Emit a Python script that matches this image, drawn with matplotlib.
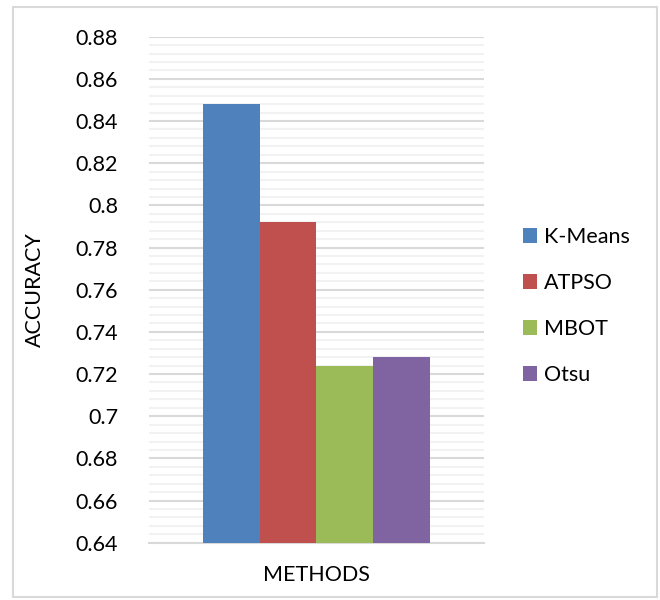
import matplotlib
matplotlib.use("Agg")
import matplotlib.pyplot as plt
from matplotlib.patches import Rectangle
from matplotlib.ticker import MultipleLocator

methods = ["K-Means", "ATPSO", "MBOT", "Otsu"]
accuracy = [0.848, 0.792, 0.724, 0.728]
colors = ["#4F81BD", "#C0504D", "#9BBB59", "#8064A2"]
yticks = [0.64, 0.66, 0.68, 0.70, 0.72, 0.74, 0.76, 0.78, 0.80, 0.82, 0.84, 0.86, 0.88]
ytick_labels = ["0.64", "0.66", "0.68", "0.7", "0.72", "0.74", "0.76", "0.78",
                "0.8", "0.82", "0.84", "0.86", "0.88"]

plt.rcParams['font.family'] = ['Lato', 'DejaVu Sans']

fig = plt.figure(figsize=(6.6, 6.0), dpi=100)
ax = fig.add_axes([0.2253, 0.0955, 0.5080, 0.8433])

# chart border
fig.patches.append(Rectangle((13 / 660, 3 / 600), 644 / 660, 590 / 600,
                             transform=fig.transFigure, fill=False,
                             edgecolor="#d9d9d9", linewidth=1.5))

for i, (name, val, c) in enumerate(zip(methods, accuracy, colors)):
    ax.bar(i, val - 0.64, bottom=0.64, width=1.0, color=c, label=name, zorder=3)

ax.set_xlim(-1.46, 4.46)
ax.set_ylim(0.64, 0.88)
ax.set_yticks(yticks)
ax.set_yticklabels(ytick_labels)
ax.yaxis.set_minor_locator(MultipleLocator(0.004))
ax.set_xticks([])

ax.grid(which="major", axis="y", color="#d9d9d9", linewidth=1.5, zorder=1)
ax.grid(which="minor", axis="y", color="#f2f2f2", linewidth=1.5, zorder=0)

for s in ["top", "right", "left"]:
    ax.spines[s].set_visible(False)
ax.spines["bottom"].set_color("#d9d9d9")
ax.spines["bottom"].set_linewidth(1.5)

ax.tick_params(axis="y", which="both", length=0, labelsize=15.5, pad=22)
ax.set_xlabel("METHODS", fontsize=15.5, labelpad=16)
ax.set_ylabel("ACCURACY", fontsize=15.5, labelpad=22)

ax.legend(loc="center left", bbox_to_anchor=(1.09, 0.468), frameon=False,
          fontsize=15.5, handlelength=0.68, handleheight=0.68, handletextpad=0.3,
          labelspacing=1.2, borderaxespad=0)

plt.savefig("out.png", dpi=100)
